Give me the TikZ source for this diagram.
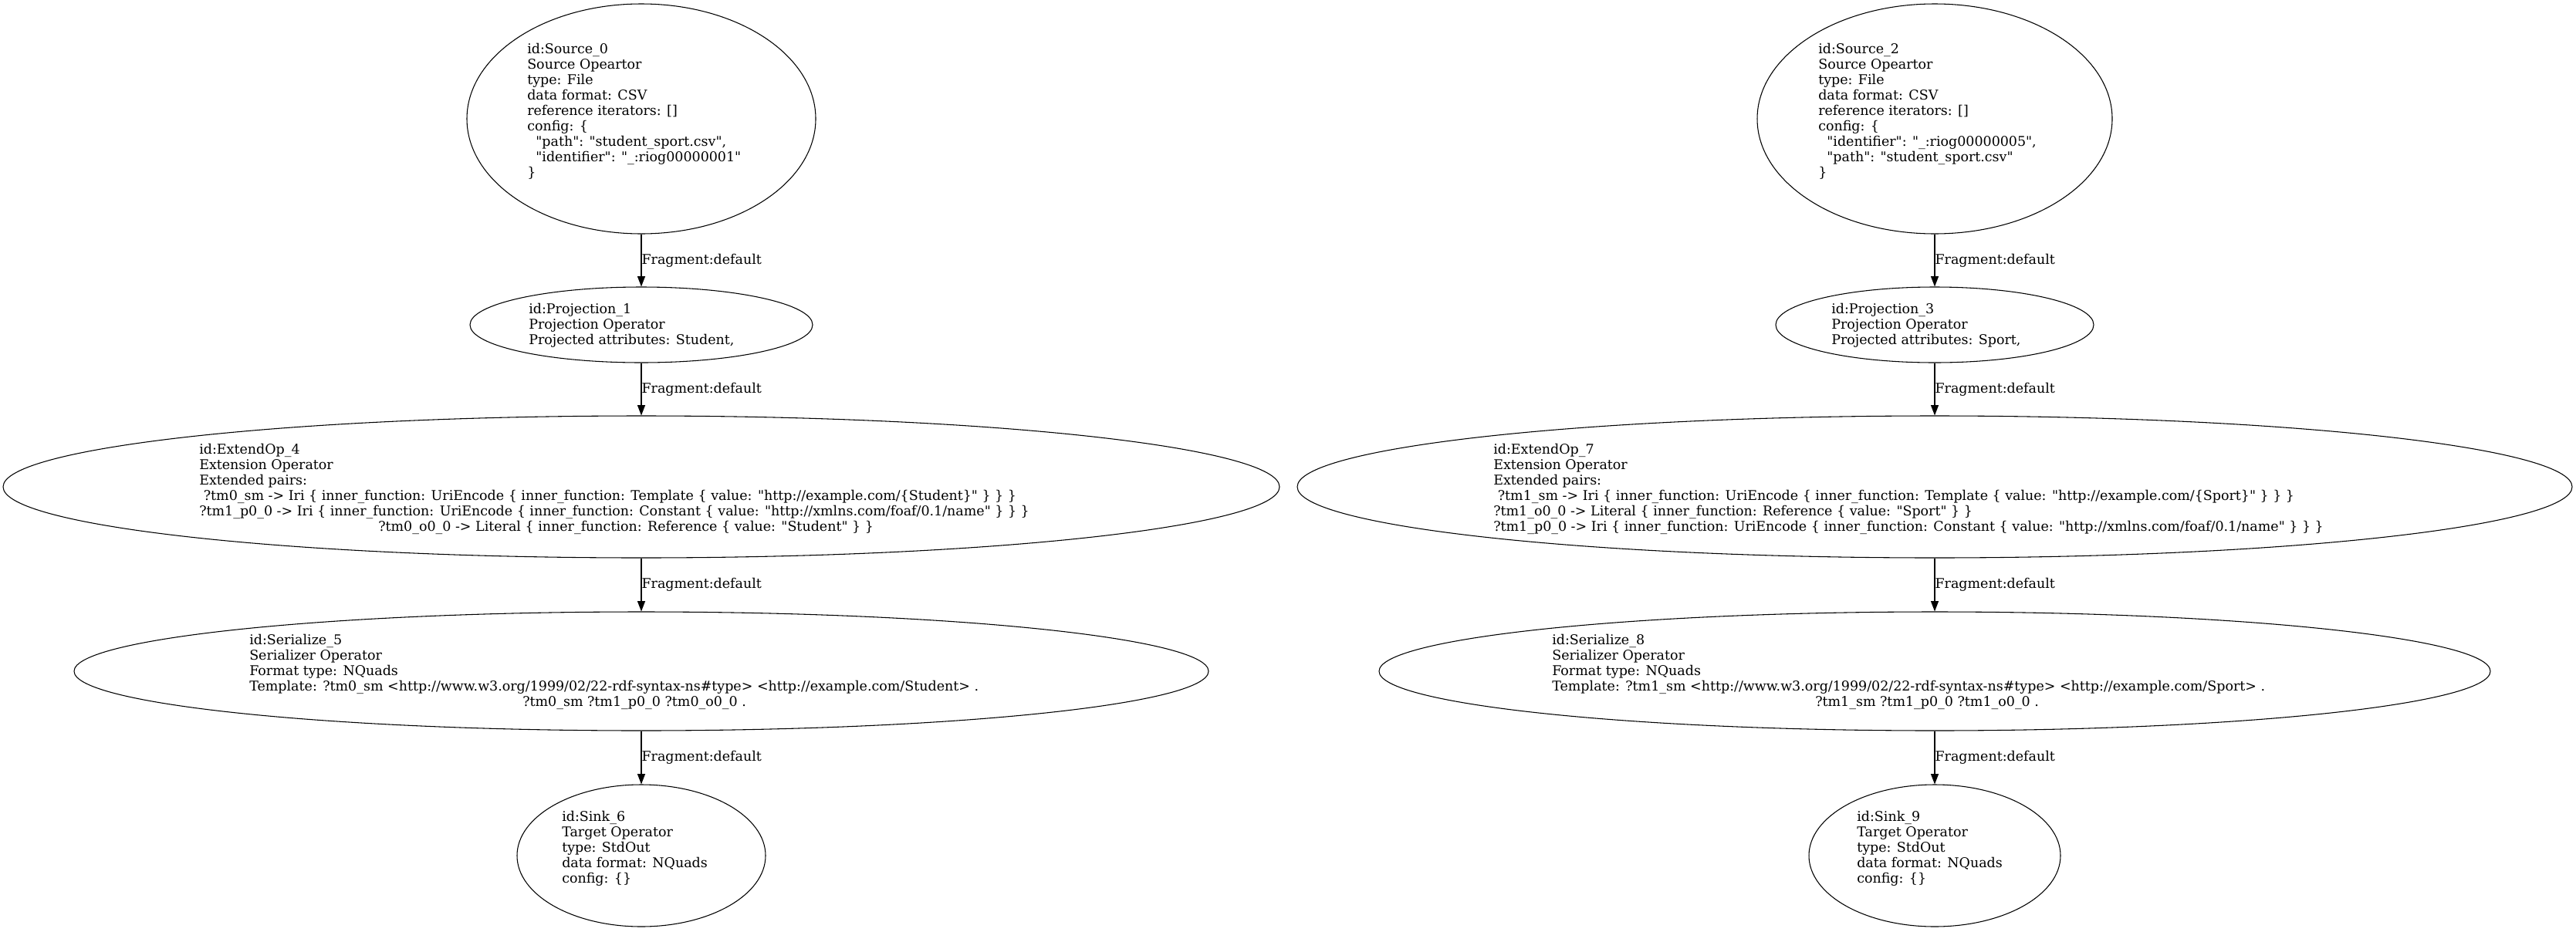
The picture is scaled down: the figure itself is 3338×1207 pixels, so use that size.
\documentclass[tikz,border=0pt]{standalone}
\usepackage{fontspec}
\setmainfont{DejaVu Serif}[Ligatures=TeXOff]
\usetikzlibrary{shapes.geometric, arrows.meta, positioning}
\tikzstyle{op} = [ellipse, draw, line width=0.8pt, inner sep=0pt]
\tikzstyle{optext} = [anchor=north west, align=left, inner sep=0pt, font=\fontsize{13.1}{15}\selectfont]
\tikzstyle{flow} = [-{Triangle[length=10pt, width=7.5pt]}, line width=0.8pt]
\tikzstyle{frag} = [right, inner sep=0pt, font=\fontsize{13.1}{15}\selectfont]

\begin{document}
\begin{tikzpicture}[x=0.75pt, y=-0.75pt]
    \useasboundingbox (0,0) rectangle (3338,1207);

    % Left pipeline: Student
    \node[op, minimum width=339pt, minimum height=223.5pt] (source_0) at (831,154) {};
    \node[optext] (source_0_txt) at (683,56) {id:Source\_0\\Source Opeartor\\type: File\\data format: CSV\\reference iterators: []\\config: \{\\\ \ "path": "student\_sport.csv",\\\ \ "identifier": "\_:riog00000001"\\\}};
    \node[op, minimum width=333pt, minimum height=73.5pt] (projection_1) at (831,421) {};
    \node[optext] (projection_1_txt) at (685,393) {id:Projection\_1\\Projection Operator\\Projected attributes: Student,};
    \node[op, minimum width=1240.5pt, minimum height=138pt] (extend_4) at (831,631) {};
    \node[optext] (extend_4_txt) at (258,575) {id:ExtendOp\_4\\Extension Operator\\Extended pairs:\\\ ?tm0\_sm -> Iri \{ inner\_function: UriEncode \{ inner\_function: Template \{ value: "http://example.com/\{Student\}" \} \} \}\\?tm1\_p0\_0 -> Iri \{ inner\_function: UriEncode \{ inner\_function: Constant \{ value: "http://xmlns.com/foaf/0.1/name" \} \} \}\\\hspace*{174pt}?tm0\_o0\_0 -> Literal \{ inner\_function: Reference \{ value: "Student" \} \}};
    \node[op, minimum width=1102.5pt, minimum height=115.5pt] (serialize_5) at (831,870) {};
    \node[optext] (serialize_5_txt) at (323,822) {id:Serialize\_5\\Serializer Operator\\Format type: NQuads\\Template: ?tm0\_sm <http://www.w3.org/1999/02/22-rdf-syntax-ns\#type> <http://example.com/Student> .\\\hspace*{265.5pt}?tm0\_sm ?tm1\_p0\_0 ?tm0\_o0\_0 .};
    \node[op, minimum width=241.5pt, minimum height=138pt] (sink_6) at (831,1109) {};
    \node[optext] (sink_6_txt) at (728,1051) {id:Sink\_6\\Target Operator\\type: StdOut\\data format: NQuads\\config: \{\}};

    % Right pipeline: Sport
    \node[op, minimum width=345pt, minimum height=223.5pt] (source_2) at (2507,154) {};
    \node[optext] (source_2_txt) at (2356,56) {id:Source\_2\\Source Opeartor\\type: File\\data format: CSV\\reference iterators: []\\config: \{\\\ \ "identifier": "\_:riog00000005",\\\ \ "path": "student\_sport.csv"\\\}};
    \node[op, minimum width=309pt, minimum height=73.5pt] (projection_3) at (2507,421) {};
    \node[optext] (projection_3_txt) at (2373,393) {id:Projection\_3\\Projection Operator\\Projected attributes: Sport,};
    \node[op, minimum width=1239pt, minimum height=138pt] (extend_7) at (2507,631) {};
    \node[optext] (extend_7_txt) at (1935,575) {id:ExtendOp\_7\\Extension Operator\\Extended pairs:\\\ ?tm1\_sm -> Iri \{ inner\_function: UriEncode \{ inner\_function: Template \{ value: "http://example.com/\{Sport\}" \} \} \}\\?tm1\_o0\_0 -> Literal \{ inner\_function: Reference \{ value: "Sport" \} \}\\?tm1\_p0\_0 -> Iri \{ inner\_function: UriEncode \{ inner\_function: Constant \{ value: "http://xmlns.com/foaf/0.1/name" \} \} \}};
    \node[op, minimum width=1080pt, minimum height=115.5pt] (serialize_8) at (2507,870) {};
    \node[optext] (serialize_8_txt) at (2011,822) {id:Serialize\_8\\Serializer Operator\\Format type: NQuads\\Template: ?tm1\_sm <http://www.w3.org/1999/02/22-rdf-syntax-ns\#type> <http://example.com/Sport> .\\\hspace*{255.75pt}?tm1\_sm ?tm1\_p0\_0 ?tm1\_o0\_0 .};
    \node[op, minimum width=244.5pt, minimum height=138pt] (sink_9) at (2507,1109) {};
    \node[optext] (sink_9_txt) at (2406,1051) {id:Sink\_9\\Target Operator\\type: StdOut\\data format: NQuads\\config: \{\}};

    % Edges
    \draw[flow] (source_0) -- node[frag] (frag_01) {Fragment:default} (projection_1);
    \draw[flow] (projection_1) -- node[frag] (frag_14) {Fragment:default} (extend_4);
    \draw[flow] (extend_4) -- node[frag] (frag_45) {Fragment:default} (serialize_5);
    \draw[flow] (serialize_5) -- node[frag] (frag_56) {Fragment:default} (sink_6);
    \draw[flow] (source_2) -- node[frag] (frag_23) {Fragment:default} (projection_3);
    \draw[flow] (projection_3) -- node[frag] (frag_37) {Fragment:default} (extend_7);
    \draw[flow] (extend_7) -- node[frag] (frag_78) {Fragment:default} (serialize_8);
    \draw[flow] (serialize_8) -- node[frag] (frag_89) {Fragment:default} (sink_9);
\end{tikzpicture}
\end{document}
